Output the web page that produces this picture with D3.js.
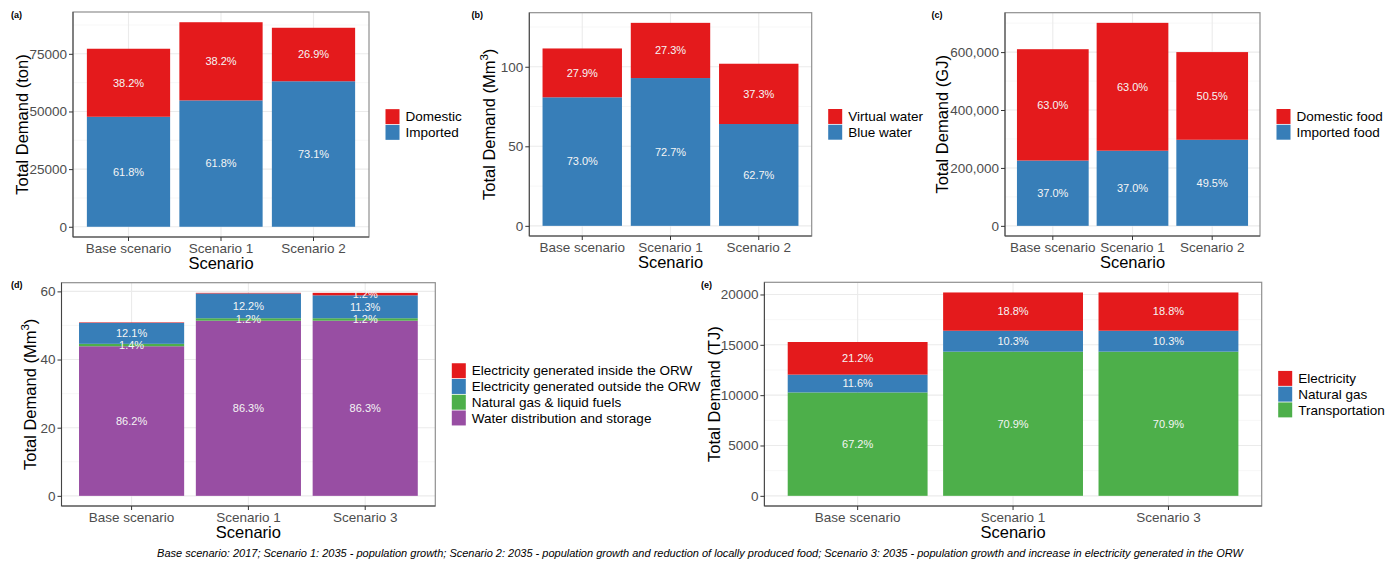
<!DOCTYPE html>
<html>
<head>
<meta charset="utf-8">
<script src="https://cdn.jsdelivr.net/npm/d3@7"></script>
<style>
  body { margin: 0; background: #fff; }
  text { font-family: "Liberation Sans", Arial, sans-serif; }
</style>
</head>
<body>
<svg id="chart" width="1397" height="562"></svg>
<script>
// scenarios
const scenariosABC = ["Base scenario", "Scenario 1", "Scenario 2"];
const scenariosDE = ["Base scenario", "Scenario 1", "Scenario 3"];

// (a) food demand, ton
const importedTon = [47700, 54800, 63100];
const domesticTon = [29500, 33900, 23200];
const importedTonPct = ["61.8%", "61.8%", "73.1%"];
const domesticTonPct = ["38.2%", "38.2%", "26.9%"];

// (b) water demand, Mm3
const blueWater = [80.8, 92.9, 64.0];
const virtualWater = [30.7, 34.7, 37.9];
const blueWaterPct = ["73.0%", "72.7%", "62.7%"];
const virtualWaterPct = ["27.9%", "27.3%", "37.3%"];

// (c) food energy, GJ
const importedFood = [225500, 259500, 297300];
const domesticFood = [384500, 441500, 302700];
const importedFoodPct = ["37.0%", "37.0%", "49.5%"];
const domesticFoodPct = ["63.0%", "63.0%", "50.5%"];

// (d) water for energy, Mm3
const waterDist = [43.9, 51.4, 51.4];
const gasFuels = [0.71, 0.72, 0.72];
const elecOutside = [6.16, 7.27, 6.73];
const elecInside = [0.15, 0.18, 0.72];
const waterDistPct = ["86.2%", "86.3%", "86.3%"];
const gasFuelsPct = ["1.4%", "1.2%", "1.2%"];
const elecOutsidePct = ["12.1%", "12.2%", "11.3%"];
const elecInsidePct = [null, null, "1.2%"];

// (e) energy demand, TJ
const transport = [10270, 14320, 14320];
const naturalGas = [1770, 2080, 2080];
const electricity = [3240, 3800, 3800];
const transportPct = ["67.2%", "70.9%", "70.9%"];
const naturalGasPct = ["11.6%", "10.3%", "10.3%"];
const electricityPct = ["21.2%", "18.8%", "18.8%"];

const caption = "Base scenario: 2017; Scenario 1: 2035 - population growth; Scenario 2: 2035 - population growth and reduction of locally produced food; Scenario 3: 2035 - population growth and increase in electricity generated in the ORW";

const RED = "#E41A1C", BLUE = "#377EB8", GREEN = "#4DAF4A", PURPLE = "#984EA3";

const svg = d3.select("#chart");

function drawPanel(p) {
  const [l, t, r, b] = p.box;
  const g = svg.append("g");
  const keys = p.series.map(s => s.key);

  const rows = p.cats.map((c, i) => {
    const o = { cat: c };
    p.series.forEach(s => o[s.key] = s.values[i]);
    return o;
  });
  const stacked = d3.stack().keys(keys)(rows);
  const ymax = d3.max(rows, d => d3.sum(keys, k => d[k]));

  const x = d3.scaleBand().domain(p.cats).range([l, r])
    .paddingInner(0.1).paddingOuter(0.15);
  const y = d3.scaleLinear().domain([-0.05 * ymax, 1.05 * ymax]).range([b, t]);

  // grid
  g.selectAll("line.minor").data(p.minor).enter().append("line")
    .attr("x1", l).attr("x2", r)
    .attr("y1", d => y(d)).attr("y2", d => y(d))
    .attr("stroke", "#F2F2F2").attr("stroke-width", 0.6);
  g.selectAll("line.majy").data(p.ticks).enter().append("line")
    .attr("x1", l).attr("x2", r)
    .attr("y1", d => y(d)).attr("y2", d => y(d))
    .attr("stroke", "#EBEBEB").attr("stroke-width", 1.1);
  g.selectAll("line.majx").data(p.cats).enter().append("line")
    .attr("x1", d => x(d) + x.bandwidth() / 2).attr("x2", d => x(d) + x.bandwidth() / 2)
    .attr("y1", t).attr("y2", b)
    .attr("stroke", "#EBEBEB").attr("stroke-width", 1.1);

  // bars
  stacked.forEach((layer, li) => {
    const s = p.series[li];
    g.selectAll(null).data(layer).enter().append("rect")
      .attr("x", d => x(d.data.cat))
      .attr("width", x.bandwidth())
      .attr("y", d => y(d[1]))
      .attr("height", d => y(d[0]) - y(d[1]))
      .attr("fill", s.color);
  });
  stacked.forEach((layer, li) => {
    const s = p.series[li];
    g.selectAll(null).data(layer).enter()
      .filter((d, i) => s.labels[i])
      .append("text")
      .attr("x", d => x(d.data.cat) + x.bandwidth() / 2)
      .attr("y", d => y((d[0] + d[1]) / 2))
      .attr("dy", "0.35em")
      .attr("text-anchor", "middle")
      .attr("fill", "#F5F5F5")
      .attr("font-size", 11)
      .text((d, i) => s.labels[p.cats.indexOf(d.data.cat)]);
  });

  // border
  g.append("rect").attr("x", l).attr("y", t).attr("width", r - l).attr("height", b - t)
    .attr("fill", "none").attr("stroke", "#8F8F8F").attr("stroke-width", 1.2);
  g.append("line").attr("x1", l).attr("x2", l).attr("y1", t).attr("y2", b)
    .attr("stroke", "#444").attr("stroke-width", 1);
  g.append("line").attr("x1", l).attr("x2", r).attr("y1", b).attr("y2", b)
    .attr("stroke", "#444").attr("stroke-width", 1);

  // axes
  const ya = g.append("g").attr("transform", `translate(${l},0)`)
    .call(d3.axisLeft(y).tickValues(p.ticks).tickFormat(p.fmt).tickSize(4).tickPadding(2));
  const xa = g.append("g").attr("transform", `translate(0,${b})`)
    .call(d3.axisBottom(x).tickSize(4).tickPadding(2.5));
  [ya, xa].forEach(a => {
    a.select(".domain").remove();
    a.selectAll(".tick line").attr("stroke", "#333");
    a.selectAll(".tick text").attr("fill", "#4D4D4D").attr("font-size", 13.5)
      .attr("font-family", "Liberation Sans, Arial, sans-serif");
  });

  // axis titles
  g.append("text").attr("x", (l + r) / 2).attr("y", b + 31.5)
    .attr("text-anchor", "middle").attr("font-size", 16.5).attr("fill", "#000")
    .text("Scenario");
  const yt = g.append("text")
    .attr("transform", `translate(${l - p.titleOff},${(t + b) / 2}) rotate(-90)`)
    .attr("text-anchor", "middle").attr("font-size", 16.5).attr("fill", "#000");
  if (p.sup) {
    yt.append("tspan").text(p.yTitle);
    yt.append("tspan").attr("dy", -7).attr("font-size", 11.5).text(p.sup);
    yt.append("tspan").attr("dy", 7).text(")");
  } else {
    yt.text(p.yTitle);
  }

  // tag
  g.append("text").attr("x", p.tag[1]).attr("y", p.tag[2])
    .attr("font-size", 9).attr("font-weight", "bold").text(p.tag[0]);

  // legend (top of stack first)
  const leg = p.series.slice().reverse();
  const kh = 15.75;
  const ly0 = (t + b) / 2 - kh * leg.length / 2;
  const lx = r + 16.5;
  const lg = g.append("g");
  lg.selectAll("rect").data(leg).enter().append("rect")
    .attr("x", lx).attr("y", (d, i) => ly0 + i * kh + 0.4)
    .attr("width", 14).attr("height", kh - 0.8)
    .attr("fill", d => d.color);
  lg.selectAll("text").data(leg).enter().append("text")
    .attr("x", lx + 20).attr("y", (d, i) => ly0 + i * kh + kh / 2)
    .attr("dy", "0.35em").attr("font-size", 13.5).attr("fill", "#000")
    .text(d => d.name);
}

drawPanel({
  tag: ["(a)", 11, 17.5], box: [73, 12, 369, 237], cats: scenariosABC,
  series: [
    { key: "imp", name: "Imported", color: BLUE, values: importedTon, labels: importedTonPct },
    { key: "dom", name: "Domestic", color: RED, values: domesticTon, labels: domesticTonPct }
  ],
  ticks: [0, 25000, 50000, 75000], minor: [12500, 37500, 62500, 87500],
  fmt: d3.format("d"), yTitle: "Total Demand (ton)", titleOff: 45
});

drawPanel({
  tag: ["(b)", 471.5, 17.5], box: [529.3, 12.7, 811.7, 236], cats: scenariosABC,
  series: [
    { key: "blue", name: "Blue water", color: BLUE, values: blueWater, labels: blueWaterPct },
    { key: "virt", name: "Virtual water", color: RED, values: virtualWater, labels: virtualWaterPct }
  ],
  ticks: [0, 50, 100], minor: [25, 75, 125],
  fmt: d3.format("d"), yTitle: "Total Demand (Mm", sup: "3", titleOff: 34
});

drawPanel({
  tag: ["(c)", 931.5, 17.5], box: [1005, 12.7, 1260, 236], cats: scenariosABC,
  series: [
    { key: "imp", name: "Imported food", color: BLUE, values: importedFood, labels: importedFoodPct },
    { key: "dom", name: "Domestic food", color: RED, values: domesticFood, labels: domesticFoodPct }
  ],
  ticks: [0, 200000, 400000, 600000], minor: [100000, 300000, 500000, 700000],
  fmt: d3.format(","), yTitle: "Total Demand (GJ)", titleOff: 57
});

drawPanel({
  tag: ["(d)", 11, 287.5], box: [61.5, 282.7, 435.3, 506], cats: scenariosDE,
  series: [
    { key: "wd", name: "Water distribution and storage", color: PURPLE, values: waterDist, labels: waterDistPct },
    { key: "gas", name: "Natural gas & liquid fuels", color: GREEN, values: gasFuels, labels: gasFuelsPct },
    { key: "out", name: "Electricity generated outside the ORW", color: BLUE, values: elecOutside, labels: elecOutsidePct },
    { key: "in", name: "Electricity generated inside the ORW", color: RED, values: elecInside, labels: elecInsidePct }
  ],
  ticks: [0, 20, 40, 60], minor: [10, 30, 50],
  fmt: d3.format("d"), yTitle: "Total Demand (Mm", sup: "3", titleOff: 26
});

drawPanel({
  tag: ["(e)", 701, 287.5], box: [764.4, 282.3, 1261.7, 506], cats: scenariosDE,
  series: [
    { key: "tr", name: "Transportation", color: GREEN, values: transport, labels: transportPct },
    { key: "ng", name: "Natural gas", color: BLUE, values: naturalGas, labels: naturalGasPct },
    { key: "el", name: "Electricity", color: RED, values: electricity, labels: electricityPct }
  ],
  ticks: [0, 5000, 10000, 15000, 20000], minor: [2500, 7500, 12500, 17500],
  fmt: d3.format("d"), yTitle: "Total Demand (TJ)", titleOff: 44
});

svg.append("text").attr("x", 700).attr("y", 557)
  .attr("text-anchor", "middle").attr("font-size", 11)
  .attr("font-style", "italic").attr("fill", "#000")
  .text(caption);
</script>
</body>
</html>
